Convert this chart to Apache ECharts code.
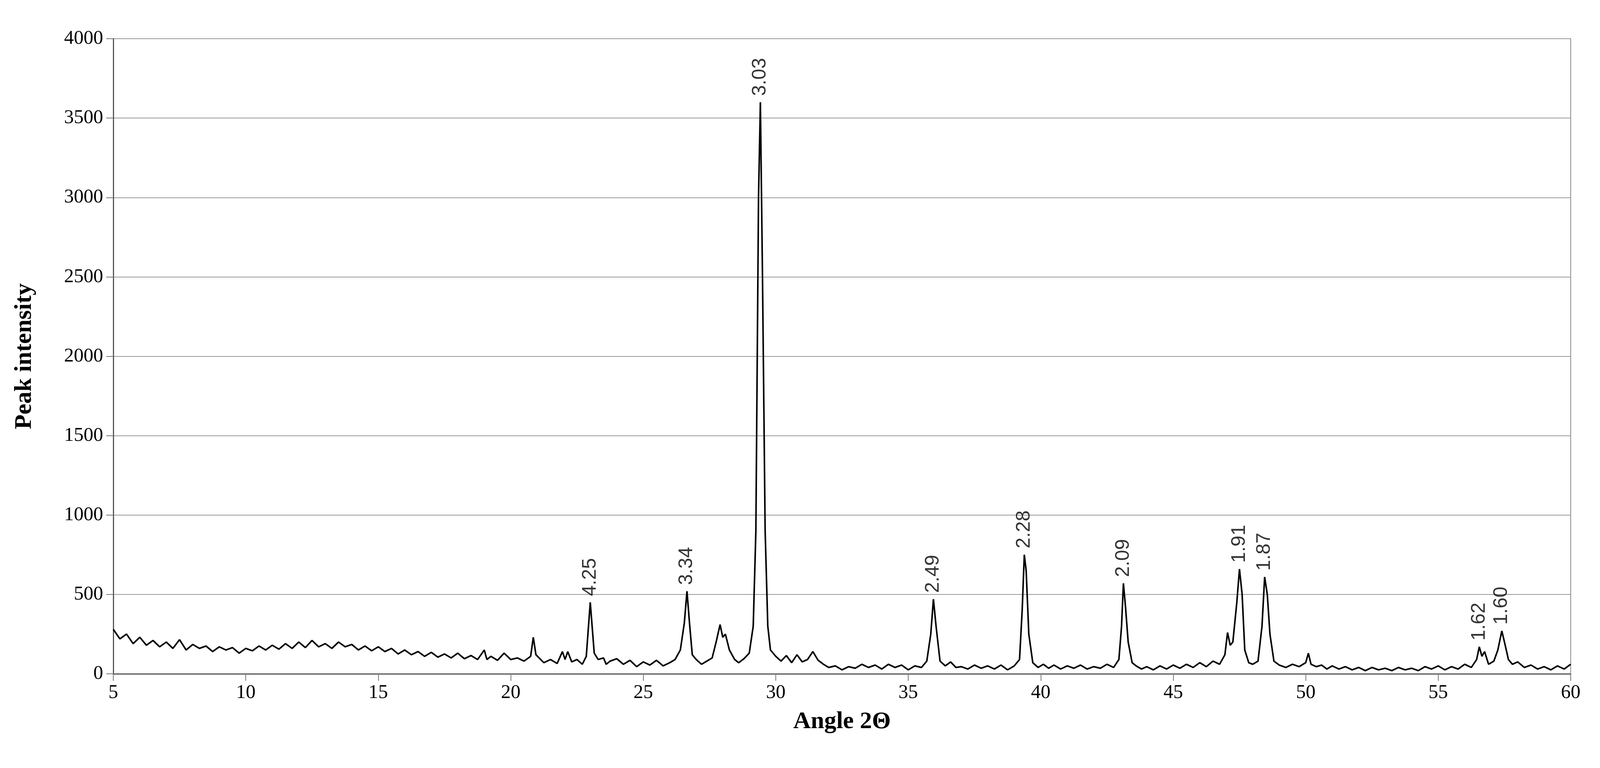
<!DOCTYPE html>
<html><head><meta charset="utf-8">
<script src="https://cdn.jsdelivr.net/npm/echarts@6/dist/echarts.min.js"></script>
<style>html,body{margin:0;padding:0;background:#fff}#c{width:4102px;height:1965px}</style>
</head><body><div id="c"></div>
<script>
const xrd = [[5.00,280],[5.25,220],[5.5,250],[5.75,190],[6.0,230],[6.25,180],[6.5,210],[6.75,170],[7.0,200],[7.25,160],[7.5,215],[7.75,150],[8.0,185],[8.25,160],[8.5,175],[8.75,140],[9.0,170],[9.25,150],[9.5,165],[9.75,130],[10.0,160],[10.25,145],[10.5,175],[10.75,150],[11.0,180],[11.25,155],[11.5,190],[11.75,160],[12.0,200],[12.25,165],[12.5,210],[12.75,170],[13.0,190],[13.25,160],[13.5,200],[13.75,170],[14.0,185],[14.25,150],[14.5,175],[14.75,145],[15.0,170],[15.25,140],[15.5,160],[15.75,125],[16.0,150],[16.25,120],[16.5,140],[16.75,110],[17.0,135],[17.25,105],[17.5,125],[17.75,100],[18.0,130],[18.25,95],[18.5,115],[18.75,90],[19.0,150],[19.1,90],[19.25,110],[19.5,85],[19.75,130],[20.0,90],[20.25,100],[20.5,80],[20.75,110],[20.85,230],[20.95,120],[21.1,95],[21.25,70],[21.5,90],[21.75,65],[21.95,140],[22.05,90],[22.15,140],[22.3,75],[22.5,90],[22.7,60],[22.85,110],[23.0,450],[23.15,130],[23.3,90],[23.5,100],[23.6,60],[23.75,80],[24.0,95],[24.25,60],[24.5,85],[24.75,45],[25.0,75],[25.25,55],[25.5,85],[25.75,50],[26.0,70],[26.2,90],[26.4,150],[26.55,320],[26.65,520],[26.75,310],[26.85,120],[27.0,90],[27.2,60],[27.4,80],[27.6,100],[27.75,200],[27.9,310],[28.0,230],[28.1,250],[28.25,150],[28.45,90],[28.6,70],[28.8,95],[29.0,130],[29.15,300],[29.25,900],[29.35,3000],[29.42,3600],[29.5,2500],[29.6,900],[29.7,300],[29.8,150],[30.0,110],[30.2,80],[30.4,115],[30.6,70],[30.8,120],[31.0,75],[31.2,90],[31.4,140],[31.6,85],[31.8,60],[32.0,40],[32.25,50],[32.5,25],[32.75,45],[33.0,35],[33.25,60],[33.5,40],[33.75,55],[34.0,30],[34.25,60],[34.5,40],[34.75,55],[35.0,25],[35.25,50],[35.5,40],[35.7,80],[35.85,250],[35.95,470],[36.05,300],[36.2,80],[36.4,50],[36.6,75],[36.8,40],[37.0,45],[37.25,30],[37.5,55],[37.75,35],[38.0,50],[38.25,30],[38.5,55],[38.75,25],[39.0,50],[39.2,90],[39.3,400],[39.38,750],[39.45,650],[39.55,250],[39.7,70],[39.9,40],[40.1,60],[40.3,35],[40.5,55],[40.75,30],[41.0,50],[41.25,35],[41.5,55],[41.75,30],[42.0,45],[42.25,35],[42.5,60],[42.75,40],[42.95,90],[43.05,300],[43.12,570],[43.2,420],[43.3,200],[43.45,70],[43.6,50],[43.8,30],[44.0,45],[44.25,25],[44.5,50],[44.75,30],[45.0,55],[45.25,35],[45.5,60],[45.75,40],[46.0,70],[46.25,45],[46.5,80],[46.75,60],[46.95,120],[47.05,260],[47.15,180],[47.25,200],[47.4,450],[47.5,660],[47.6,500],[47.7,150],[47.85,70],[48.0,60],[48.2,80],[48.35,300],[48.45,610],[48.55,500],[48.65,250],[48.8,80],[49.0,55],[49.25,40],[49.5,60],[49.75,45],[50.0,70],[50.1,130],[50.2,60],[50.4,45],[50.6,55],[50.8,30],[51.0,50],[51.25,30],[51.5,45],[51.75,25],[52.0,40],[52.25,20],[52.5,40],[52.75,25],[53.0,35],[53.25,20],[53.5,40],[53.75,25],[54.0,35],[54.25,20],[54.5,45],[54.75,30],[55.0,50],[55.25,25],[55.5,45],[55.75,30],[56.0,60],[56.25,40],[56.45,90],[56.55,170],[56.65,110],[56.75,140],[56.9,60],[57.1,80],[57.25,150],[57.4,270],[57.5,200],[57.65,90],[57.8,60],[58.0,75],[58.25,40],[58.5,55],[58.75,30],[59.0,45],[59.25,25],[59.5,50],[59.75,30],[60.0,60]];
const peakAngles = [23.0,26.65,29.42,35.95,39.38,43.12,47.5,48.45,56.55,57.4];
const peakIntensity = [450,520,3600,470,750,570,660,610,170,270];
const peakLabels = ['4.25','3.34','3.03','2.49','2.28','2.09','1.91','1.87','1.62','1.60'];

const serif = 'Liberation Serif';
const chart = echarts.init(document.getElementById('c'));
chart.setOption({
  animation:false,
  grid:{left:290,right:81,top:99,bottom:241,show:true,borderColor:'#8a8a8a',borderWidth:2},
  xAxis:{type:'value',min:5,max:60,interval:5,name:'Angle 2Θ',nameLocation:'middle',nameGap:92,
    nameTextStyle:{fontFamily:serif,fontWeight:'bold',fontSize:62,color:'#000'},
    axisLine:{lineStyle:{color:'#555',width:3}},axisTick:{length:18,lineStyle:{color:'#777',width:2}},
    axisLabel:{fontFamily:serif,fontSize:50,color:'#000',margin:24},splitLine:{show:false}},
  yAxis:{type:'value',min:0,max:4000,interval:500,name:'Peak intensity',nameLocation:'middle',nameGap:196,
    nameTextStyle:{fontFamily:serif,fontWeight:'bold',fontSize:62,color:'#000'},
    axisLine:{show:true,lineStyle:{color:'#555',width:3}},axisTick:{show:true,length:18,lineStyle:{color:'#777',width:2}},
    axisLabel:{fontFamily:serif,fontSize:50,color:'#000',margin:26,formatter:v=>String(v)},splitLine:{lineStyle:{color:'#999',width:2}}},
  series:[
    {type:'line',data:xrd,symbol:'none',lineStyle:{color:'#000',width:4}},
    {type:'scatter',symbolSize:0,silent:true,
     data:peakAngles.map((a,i)=>({value:[a,peakIntensity[i]],name:peakLabels[i]})),
     label:{show:true,position:'top',distance:16,rotate:90,align:'left',verticalAlign:'middle',
       formatter:p=>p.name,fontFamily:'Liberation Sans',fontSize:50,color:'#000'}}
  ]
});
</script></body></html>
